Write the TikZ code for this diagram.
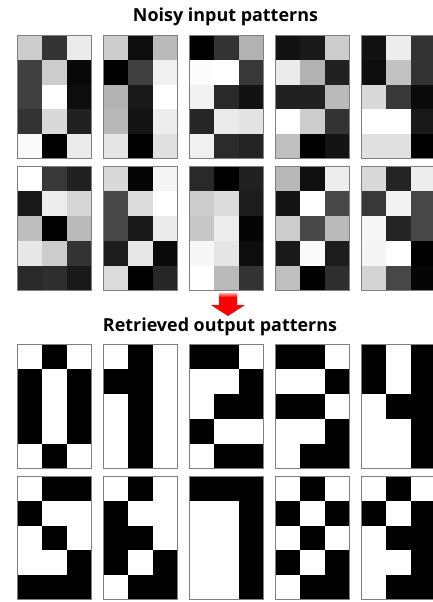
\documentclass[tikz,border=0pt]{standalone}
\usepackage{fontspec}
\setmainfont{Open Sans}
\newcommand\cellpanel[3]{%
  \foreach \v [count=\i from 0] in {#3} {%
    \pgfmathtruncatemacro\cc{mod(\i,3)}%
    \pgfmathtruncatemacro\rr{div(\i,3)}%
    \fill[white!\v!black] ({#1+\cc*24.75},{#2+\rr*24.75}) rectangle ++(24.76,24.76);
  }%
  \draw[panelframe] (#1,#2) rectangle ++(74.25,123.75);
}
\begin{document}
\begin{tikzpicture}[x=1pt,y=-1pt,
  panelframe/.style={draw=black!50,line width=0.9pt},
  titletext/.style={font=\fontsize{15.5}{18}\selectfont\bfseries,inner sep=0pt,anchor=base}]
\useasboundingbox (0,0) rectangle (433,602);
\clip (0,0) rectangle (433,602);
\fill[white] (0,0) rectangle (433,602);
\node[titletext] (t1) at (225.5,21.7) {\resizebox{185pt}{!}{Noisy input patterns}};
\node[titletext] (t2) at (220,331.5) {\resizebox{234pt}{!}{Retrieved output patterns}};
% noisy row 1
\cellpanel{17.3}{35}{80,20,92, 25,80,3, 25,100,5, 20,85,13, 98,0,92}
\cellpanel{103.4}{35}{80,5,73, 0,25,94, 70,10,100, 72,8,93, 90,0,88}
\cellpanel{189.5}{35}{0,20,70, 99,100,22, 95,16,7, 15,92,89, 94,17,14}
\cellpanel{275.6}{35}{7,10,80, 92,70,13, 13,13,73, 100,80,20, 75,0,8}
\cellpanel{361.7}{35}{7,93,20, 5,76,20, 85,22,4, 100,100,10, 88,88,0}
% noisy row 2
\cellpanel{17.3}{166.5}{100,22,13, 10,93,84, 74,0,73, 91,80,20, 16,18,10}
\cellpanel{103.4}{166.5}{85,2,96, 28,86,100, 28,10,92, 11,91,4, 86,0,15}
\cellpanel{189.5}{166.5}{16,0,13, 80,86,11, 78,93,2, 97,90,5, 100,73,20}
\cellpanel{275.6}{166.5}{72,6,93, 8,100,28, 80,28,73, 10,98,11, 75,0,18}
\cellpanel{361.7}{166.5}{85,14,93, 22,95,28, 97,14,28, 96,100,0, 83,28,2}
% arrow
\fill[red] (219,293) -- (237,293) -- (237,305) -- (245,305) -- (228,316) -- (211,305) -- (219,305) -- cycle;
\shade[top color=red!35!white,bottom color=red] (219,293) rectangle (237,297);
% retrieved row 1
\cellpanel{17.3}{344.5}{100,0,100, 0,100,0, 0,100,0, 0,100,0, 100,0,100}
\cellpanel{103.4}{344.5}{100,0,100, 0,0,100, 100,0,100, 100,0,100, 100,0,100}
\cellpanel{189.5}{344.5}{0,0,100, 100,100,0, 100,0,0, 0,100,100, 100,0,0}
\cellpanel{275.6}{344.5}{0,0,100, 100,100,0, 0,0,100, 100,100,0, 100,0,0}
\cellpanel{361.7}{344.5}{0,100,0, 0,100,0, 100,0,0, 100,100,0, 100,100,0}
% retrieved row 2
\cellpanel{17.3}{476}{100,0,0, 0,100,100, 100,0,100, 100,100,0, 0,0,0}
\cellpanel{103.4}{476}{100,0,100, 0,100,100, 0,0,100, 0,100,0, 100,0,0}
\cellpanel{189.5}{476}{0,0,0, 100,100,0, 100,100,0, 100,100,0, 100,100,0}
\cellpanel{275.6}{476}{100,0,100, 0,100,0, 100,0,100, 0,100,0, 100,0,0}
\cellpanel{361.7}{476}{100,0,100, 0,100,0, 100,0,0, 100,100,0, 100,0,0}
\end{tikzpicture}
\end{document}
